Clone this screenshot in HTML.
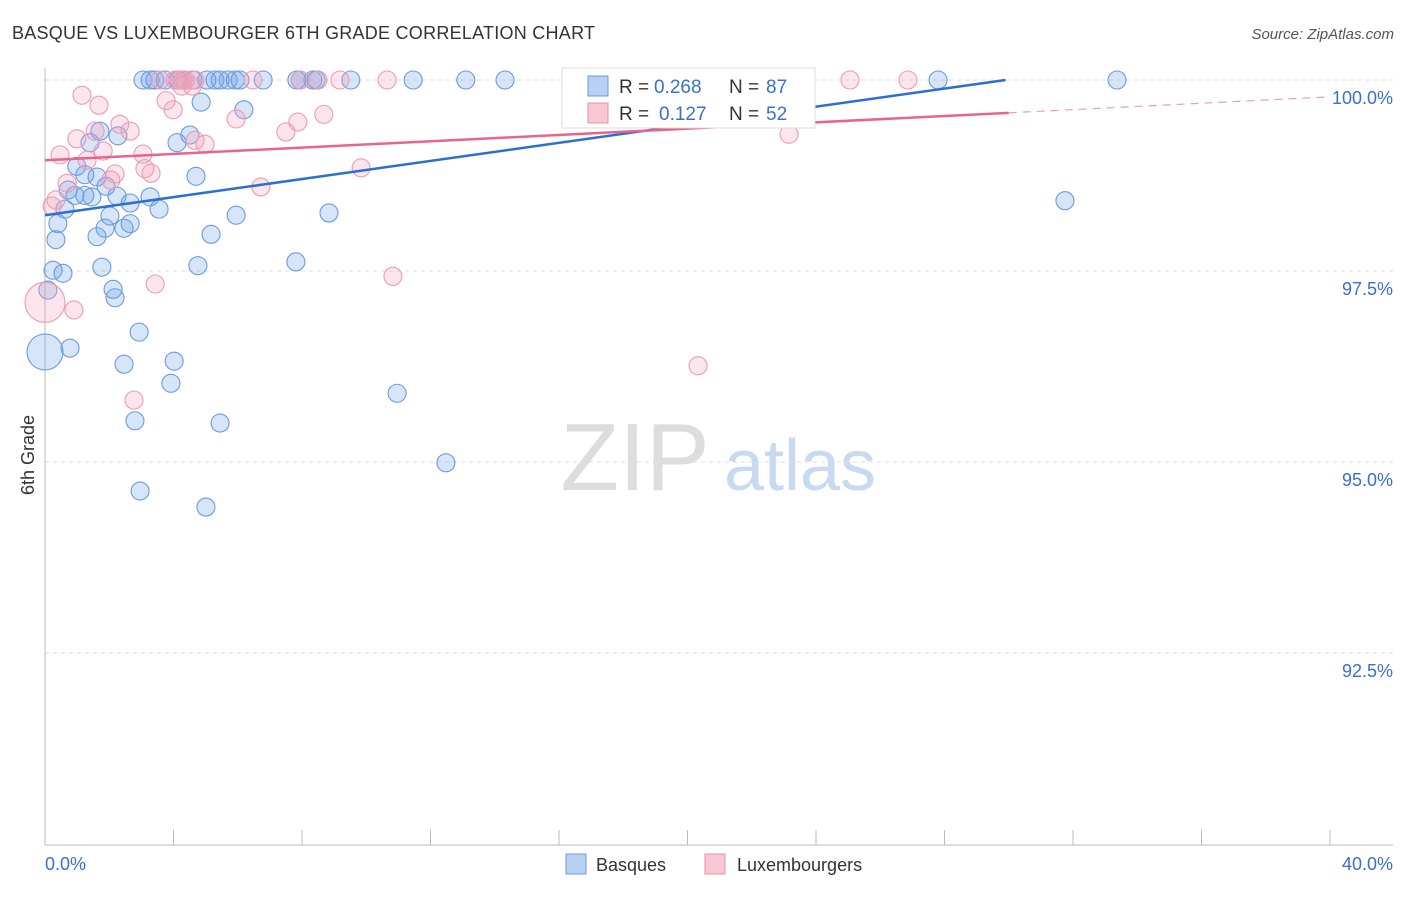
<!DOCTYPE html>
<html><head><meta charset="utf-8"><style>
body{margin:0;background:#fff;font-family:"Liberation Sans",sans-serif;}
svg text{font-family:"Liberation Sans",sans-serif;}
</style></head><body>
<svg id="chart" width="1406" height="892" viewBox="0 0 1406 892" xmlns="http://www.w3.org/2000/svg">
<text x="12" y="39" font-size="18" fill="#333" textLength="583">BASQUE VS LUXEMBOURGER 6TH GRADE CORRELATION CHART</text>
<text x="1394" y="39" font-size="15" fill="#555" font-style="italic" text-anchor="end">Source: ZipAtlas.com</text>
<g>
<text x="635" y="490" font-size="96" fill="#ddd" font-family="Liberation Serif,serif" text-anchor="middle">ZIP</text>
<text x="800" y="490" font-size="72" fill="#c8daf2" text-anchor="middle">atlas</text>
</g>
<g id="grid"></g>
<g id="axes"></g>
<g id="pts"></g>
<g id="trends"></g>
<text transform="translate(34,455) rotate(-90)" font-size="18" fill="#333" text-anchor="middle">6th Grade</text>
<text x="45" y="870" font-size="18" fill="#3a6fd0">0.0%</text>
<text x="1393" y="870" font-size="18" fill="#3a6fd0" text-anchor="end">40.0%</text>
<g>
<rect x="562" y="68" width="253" height="60" fill="#fff" stroke="#ddd"/>
<rect x="588" y="76" width="20" height="20" fill="#b8d0f3" stroke="#6a9ae0"/>
<text x="619" y="93" font-size="19" fill="#333">R =</text>
<text x="654" y="93" font-size="19" fill="#3a6fd0">0.268</text>
<text x="729" y="93" font-size="19" fill="#333">N =</text>
<text x="766" y="93" font-size="19" fill="#3a6fd0">87</text>
<rect x="588" y="103" width="20" height="20" fill="#f9c6d3" stroke="#e890a8"/>
<text x="619" y="120" font-size="19" fill="#333">R =</text>
<text x="659" y="120" font-size="19" fill="#3a6fd0">0.127</text>
<text x="729" y="120" font-size="19" fill="#333">N =</text>
<text x="766" y="120" font-size="19" fill="#3a6fd0">52</text>
</g>
<g>
<rect x="566" y="854" width="20" height="20" fill="#b8d0f3" stroke="#6a9ae0"/>
<text x="596" y="871" font-size="18" fill="#333">Basques</text>
<rect x="705" y="854" width="20" height="20" fill="#f9c6d3" stroke="#e890a8"/>
<text x="737" y="871" font-size="18" fill="#333">Luxembourgers</text>
</g>
</svg>
<script>
const yTicks=[100,97.5,95,92.5];
const yTickLabels=["100.0%","97.5%","95.0%","92.5%"];
const xTicks=[0,4,8,12,16,20,24,28,32,36,40];
const basqueX=[3.05,3.27,3.42,3.74,4.14,4.29,4.61,5.04,5.29,5.45,5.70,5.92,6.07,6.79,7.84,7.94,8.34,8.44,9.52,11.46,13.10,14.32,20.76,23.69,27.8,33.37,
4.86,6.19,4.51,4.11,1.71,1.40,2.27,0.99,1.24,1.62,0.72,0.93,1.24,1.46,1.90,2.24,2.65,3.27,4.70,0.62,0.40,0.34,2.02,1.87,2.46,2.65,3.55,1.62,5.17,5.95,8.84,31.75,0.25,0.56,1.77,0.09,2.12,2.18,4.76,7.81,2.93,0.78,0,2.46,4.02,3.92,10.96,2.80,5.45,12.48,2.96,5.01];
const basqueY=[100,100,100,100,100,100,100,100,100,100,100,100,100,100,100,100,100,100,100,100,100,100,100,100,100,100,
99.71,99.61,99.28,99.18,99.33,99.18,99.27,98.87,98.76,98.73,98.56,98.49,98.49,98.47,98.61,98.48,98.39,98.47,98.74,98.31,98.12,97.91,98.22,98.06,98.06,98.12,98.31,97.95,97.98,98.23,98.26,98.42,97.51,97.47,97.55,97.25,97.26,97.15,97.57,97.62,96.70,96.49,96.44,96.28,96.32,96.03,95.90,95.54,95.51,94.99,94.62,94.41];
const basqueBig=[68];
const luxX=[3.58,4.05,4.20,4.29,4.36,4.67,6.47,7.94,8.50,9.18,10.65,25.06,26.86,
4.26,4.58,1.15,1.68,3.77,3.99,5.95,8.68,7.50,7.87,2.33,2.65,1.56,0.99,1.81,0.47,3.05,1.31,4.67,4.98,3.11,3.30,2.18,2.05,0.69,0.34,0.22,9.84,6.72,23.16,3.43,10.83,0.90,0,20.33,2.77];
const luxY=[100,100,100,100,100,100,100,100,100,100,100,100,100,
99.92,99.92,99.80,99.67,99.73,99.61,99.49,99.55,99.32,99.45,99.42,99.33,99.33,99.23,99.07,99.02,99.03,98.95,99.21,99.16,98.84,98.78,98.77,98.69,98.65,98.43,98.35,98.85,98.60,99.29,97.33,97.43,96.99,97.09,96.26,95.81];
const luxBig=[46];
const basqueTrend=[[0,98.23],[29.9,100]];
const luxTrend=[[0,98.95],[30,99.57],[40,99.78]];

const NS="http://www.w3.org/2000/svg";
const X=v=>45+v*32.125, Y=v=>80+(100-v)*76.4;
function mk(t,a,p){const e=document.createElementNS(NS,t);for(const k in a)e.setAttribute(k,a[k]);p.appendChild(e);return e;}
const grid=document.getElementById('grid'),axes=document.getElementById('axes'),pts=document.getElementById('pts'),tr=document.getElementById('trends');
yTicks.forEach((v,i)=>{
 const l=mk('line',{x1:45,x2:1393,y1:Y(v),y2:Y(v),stroke:'#ddd','stroke-dasharray':'4,4'},grid);
 
 
 const t=mk('text',{x:1393,y:Y(v)+24,'font-size':18,fill:'#3a6fd0','text-anchor':'end'},grid);
 t.textContent=yTickLabels[i];
 
 
});
const ya=mk('line',{x1:45,x2:45,y1:68,y2:845,stroke:'#bbb'},axes);


const xa=mk('line',{x1:45,x2:1393,y1:845,y2:845,stroke:'#bbb'},axes);


xTicks.forEach(v=>{
 const t=mk('line',{x1:X(v),x2:X(v),y1:830,y2:845,stroke:'#bbb'},axes);
 
 
});
basqueX.forEach((v,i)=>{
 const c=mk('circle',{cx:X(v),cy:Y(basqueY[i]),r:basqueBig.includes(i)?18:9,fill:'rgba(110,160,235,0.28)',stroke:'#6a9ae0','stroke-width':1.1},pts);
 
 
});
luxX.forEach((v,i)=>{
 const c=mk('circle',{cx:X(v),cy:Y(luxY[i]),r:luxBig.includes(i)?20:9,fill:'rgba(245,160,185,0.28)',stroke:'#ec9bb2','stroke-width':1.1},pts);
 
 
});
const bt=mk('line',{x1:X(basqueTrend[0][0]),y1:Y(basqueTrend[0][1]),x2:X(basqueTrend[1][0]),y2:Y(basqueTrend[1][1]),stroke:'#2a6fd6','stroke-width':2.5},tr);


const lt=mk('line',{x1:X(luxTrend[0][0]),y1:Y(luxTrend[0][1]),x2:X(luxTrend[1][0]),y2:Y(luxTrend[1][1]),stroke:'#e8648d','stroke-width':2.5},tr);


const ld=mk('line',{x1:X(luxTrend[1][0]),y1:Y(luxTrend[1][1]),x2:X(luxTrend[2][0]),y2:Y(luxTrend[2][1]),stroke:'#e8a0b5','stroke-width':1.2,'stroke-dasharray':'8,6'},tr);


</script>
</body></html>
